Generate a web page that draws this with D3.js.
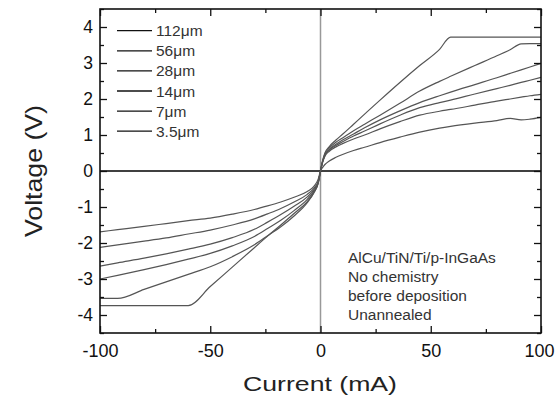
<!DOCTYPE html>
<html><head><meta charset="utf-8">
<script src="https://cdn.jsdelivr.net/npm/d3@7"></script>
<style>body{margin:0;background:#fff}svg{display:block}text{font-family:"Liberation Sans",Arial,sans-serif}</style>
</head><body><svg id="c" width="555" height="398"></svg>
<script>
const currents = [-100,-92,-80,-70,-60,-50,-40,-30,-24,-18,-12,-6,-3,-1,0,1,2,4,7,10,15,20,27,36,45,54,59,70,80,86,91,95,100];
const v112 = [-3.74,-3.74,-3.74,-3.74,-3.74,-3.21,-2.67,-2.13,-1.81,-1.5,-1.18,-0.85,-0.6,-0.33,0,0.3,0.5,0.68,0.86,1.02,1.3,1.58,1.97,2.46,2.93,3.38,3.72,3.72,3.72,3.72,3.72,3.72,3.72];
const v56  = [-3.54,-3.54,-3.29,-3.08,-2.87,-2.66,-2.38,-2.05,-1.8,-1.55,-1.25,-0.88,-0.6,-0.33,0,0.28,0.47,0.64,0.8,0.92,1.12,1.3,1.55,1.88,2.22,2.49,2.63,2.93,3.2,3.37,3.53,3.54,3.54];
const v28  = [-3.0,-2.9,-2.74,-2.6,-2.45,-2.29,-2.08,-1.82,-1.6,-1.37,-1.1,-0.79,-0.56,-0.31,0,0.27,0.44,0.6,0.74,0.86,1.03,1.2,1.42,1.67,1.9,2.09,2.19,2.4,2.59,2.71,2.81,2.89,2.99];
const v14  = [-2.64,-2.55,-2.42,-2.3,-2.17,-2.03,-1.85,-1.62,-1.42,-1.21,-0.98,-0.72,-0.52,-0.3,0,0.26,0.43,0.58,0.71,0.81,0.97,1.11,1.31,1.55,1.76,1.9,1.97,2.14,2.29,2.38,2.46,2.52,2.6];
const v7   = [-2.12,-2.05,-1.95,-1.86,-1.75,-1.64,-1.5,-1.33,-1.19,-1.04,-0.86,-0.65,-0.48,-0.28,0,0.25,0.41,0.55,0.67,0.76,0.89,1.0,1.17,1.37,1.55,1.66,1.71,1.83,1.94,2.0,2.05,2.09,2.13];
const v3_5 = [-1.69,-1.63,-1.54,-1.46,-1.38,-1.31,-1.2,-1.07,-0.97,-0.86,-0.73,-0.57,-0.43,-0.22,0,0.1,0.18,0.28,0.38,0.46,0.57,0.66,0.79,0.94,1.08,1.19,1.24,1.33,1.4,1.46,1.42,1.44,1.49];
const seriesNames = ["112\u03bcm","56\u03bcm","28\u03bcm","14\u03bcm","7\u03bcm","3.5\u03bcm"];
const seriesValues = [v112, v56, v28, v14, v7, v3_5];
const xTicks = [-100,-50,0,50,100];
const xMinor = [-75,-25,25,75];
const yTicks = [-4,-3,-2,-1,0,1,2,3,4];
const yMinor = [-4.5,-3.5,-2.5,-1.5,-0.5,0.5,1.5,2.5,3.5,4.5];
const annotation = ["AlCu/TiN/Ti/p-InGaAs","No chemistry","before deposition","Unannealed"];
const xTitle = "Current (mA)", yTitle = "Voltage (V)";

const svg = d3.select("#c");
const L=100,R=541,T=9,B=333;
const x = d3.scaleLinear().domain([-100,100]).range([L,R]);
const y = d3.scaleLinear().domain([-4.5,4.5]).range([B,T]);
const fmt = d => String(d);

// zero lines
svg.append("line").attr("x1",x(0)).attr("x2",x(0)).attr("y1",T).attr("y2",B).attr("stroke","#999").attr("stroke-width",1.5);
svg.append("line").attr("x1",L).attr("x2",R).attr("y1",y(0)).attr("y2",y(0)).attr("stroke","#000").attr("stroke-width",1.3);

// curves
const line = d3.line().x((d,i)=>x(currents[i])).y(d=>y(d)).curve(d3.curveMonotoneX);
seriesValues.forEach(v=>{
  svg.append("path").attr("d",line(v)).attr("fill","none").attr("stroke","#555").attr("stroke-width",1.2);
});

// axes
function styleAxis(g){ g.select(".domain").remove(); g.selectAll("line").attr("stroke","#111").attr("stroke-width",1.3); g.selectAll("text").attr("fill","#111"); }
const xg = svg.append("g").attr("transform",`translate(0,${B})`).call(d3.axisBottom(x).tickValues(xTicks).tickSize(-7).tickPadding(11).tickFormat(fmt)).call(styleAxis);
xg.selectAll("text").attr("font-size",18).attr("font-family","Liberation Sans, Arial, sans-serif");
// keep the last label inside the window
xg.selectAll(".tick text").filter(d=>d===100).attr("text-anchor","end").attr("x",554-R);
svg.append("g").attr("transform",`translate(0,${B})`).call(d3.axisBottom(x).tickValues(xMinor).tickSize(-4).tickFormat("")).call(styleAxis);
svg.append("g").attr("transform",`translate(0,${T})`).call(d3.axisTop(x).tickValues(xTicks).tickSize(-7).tickFormat("")).call(styleAxis);
svg.append("g").attr("transform",`translate(0,${T})`).call(d3.axisTop(x).tickValues(xMinor).tickSize(-4).tickFormat("")).call(styleAxis);
svg.append("g").attr("transform",`translate(${L},0)`).call(d3.axisLeft(y).tickValues(yTicks).tickSize(-7).tickPadding(7).tickFormat(fmt)).call(styleAxis).selectAll("text").attr("font-size",17.5).attr("font-family","Liberation Sans, Arial, sans-serif");
svg.append("g").attr("transform",`translate(${L},0)`).call(d3.axisLeft(y).tickValues(yMinor).tickSize(-4).tickFormat("")).call(styleAxis);
svg.append("g").attr("transform",`translate(${R},0)`).call(d3.axisRight(y).tickValues(yTicks).tickSize(-7).tickFormat("")).call(styleAxis);
svg.append("g").attr("transform",`translate(${R},0)`).call(d3.axisRight(y).tickValues(yMinor).tickSize(-4).tickFormat("")).call(styleAxis);

// frame
svg.append("rect").attr("x",L).attr("y",T).attr("width",R-L).attr("height",B-T).attr("fill","none").attr("stroke","#111").attr("stroke-width",1.6);

// titles
svg.append("text").attr("x",320).attr("y",391).attr("text-anchor","middle").attr("font-size",21).attr("fill","#222").attr("textLength",154).attr("lengthAdjust","spacingAndGlyphs").text(xTitle);
svg.append("text").attr("transform",`translate(42,171) rotate(-90)`).attr("text-anchor","middle").attr("font-size",24).attr("fill","#222").attr("textLength",132).attr("lengthAdjust","spacingAndGlyphs").text(yTitle);

// legend
const leg = svg.append("g");
seriesNames.forEach((n,i)=>{
  const yy = 30.7 + i*20.1;
  leg.append("line").attr("x1",117).attr("x2",152).attr("y1",yy).attr("y2",yy).attr("stroke","#111").attr("stroke-width",1.3);
  leg.append("text").attr("x",156).attr("y",yy).attr("dy","0.36em").attr("font-size",15.5).attr("fill","#333").text(n);
});

// annotation
annotation.forEach((t,i)=>{
  svg.append("text").attr("x",348).attr("y",262.5+i*19).attr("font-size",15.5).attr("fill","#333").text(t);
});
</script></body></html>
